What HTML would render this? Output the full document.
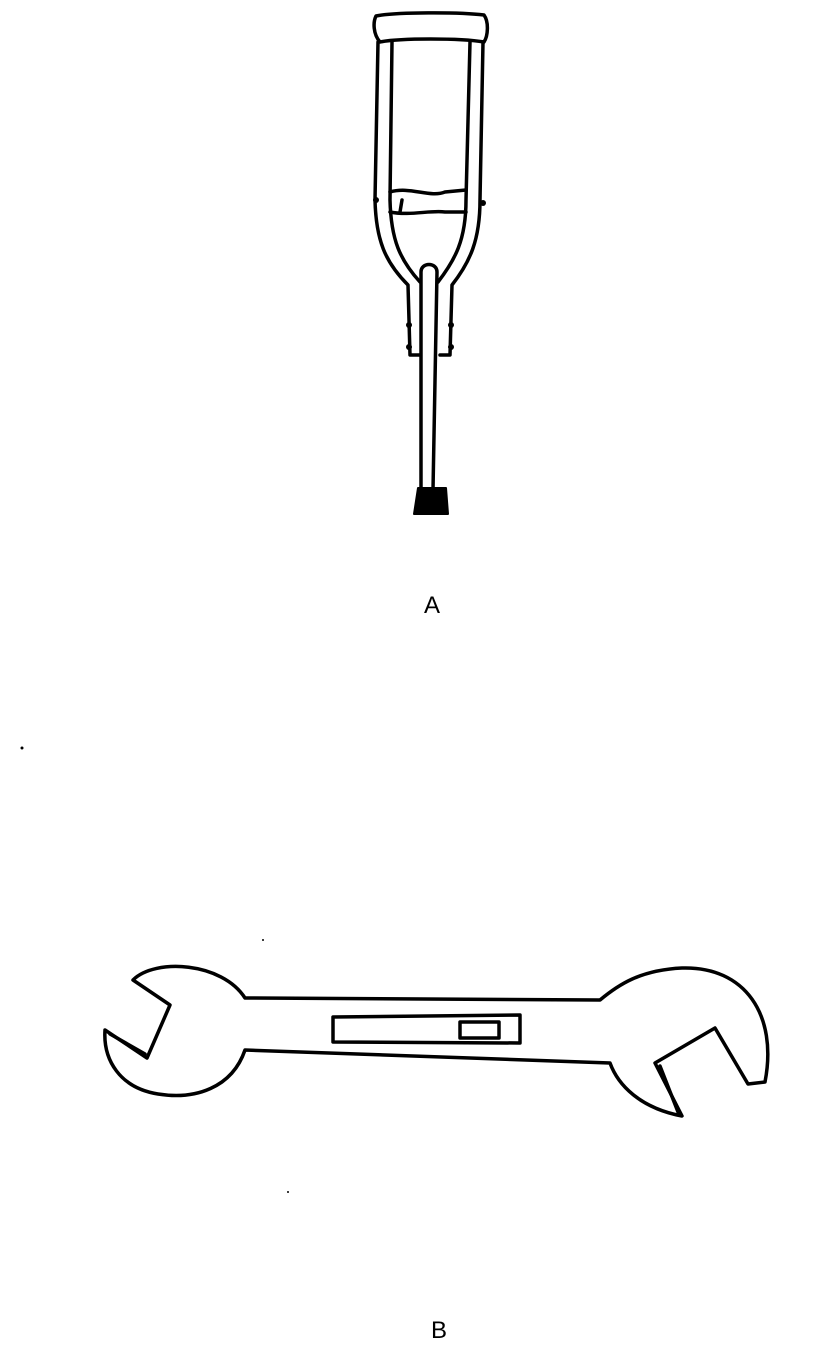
<!DOCTYPE html>
<html><head><meta charset="utf-8"><style>
html,body{margin:0;padding:0;background:#fff;width:840px;height:1365px;overflow:hidden}
svg{display:block}
text{font-family:"Liberation Sans",sans-serif;font-size:24px;fill:#000}
</style></head><body>
<svg width="840" height="1365" viewBox="0 0 840 1365">
<g fill="none" stroke="#000" stroke-width="3.5" stroke-linejoin="round" stroke-linecap="round">
  <path d="M376,16 C395,12 460,12 484,15 C489,22 488,36 484,42 C460,38 400,38 380,42 C373,34 373,22 376,16 Z"/>
  <path d="M378,42 L375,200 C376,240 385,262 408,285 L410,355 L420,355 M392,42 L390,200 C391,240 400,260 420,282"/>
  <path d="M483,42 L480,200 C480,240 470,262 452,285 L450,355 L440,355 M470,42 L466,200 C466,240 455,260 438,282"/>
  <path d="M390,192 C410,186 430,198 445,192 L466,190 M390,212 C410,216 430,210 445,212 L466,212 M402,200 L400,212"/>
  <path d="M421,490 L421,272 C421,262 437,262 437,272 L433,490"/>
  <path fill="#000" stroke-width="2" d="M418,488 L446,488 L448,514 L414,514 Z"/>
  <circle cx="376" cy="200" r="3" fill="#000" stroke="none"/>
  <circle cx="483" cy="203" r="3" fill="#000" stroke="none"/>
  <circle cx="409" cy="325" r="3" fill="#000" stroke="none"/>
  <circle cx="451" cy="325" r="3" fill="#000" stroke="none"/>
  <circle cx="409" cy="347" r="3" fill="#000" stroke="none"/>
  <circle cx="451" cy="347" r="3" fill="#000" stroke="none"/>
</g>
<text x="424" y="613">A</text>
<circle cx="22" cy="748" r="1.5" fill="#000"/>
<g fill="none" stroke="#000" stroke-width="3.5" stroke-linejoin="round" stroke-linecap="round">
  <path d="M133,980 C155,958 222,962 245,998 L600,1000 C618,985 640,970 682,968 C745,966 778,1015 765,1082 L748,1084 L715,1028 L655,1063 L682,1116 C640,1108 618,1085 610,1063 L245,1050 C232,1088 195,1100 158,1094 C120,1088 103,1060 105,1030 L147,1058 L170,1005 Z"/>
  <path d="M333,1017 L520,1015 L520,1043 L333,1042 Z"/>
  <path d="M460,1022 L499,1022 L499,1038 L460,1038 Z"/>
  <path d="M110,1034 L145,1054"/>
  <path d="M660,1066 L678,1112"/>
</g>
<circle cx="263" cy="940" r="1" fill="#000"/>
<circle cx="288" cy="1192" r="1" fill="#000"/>
<text x="431" y="1338">B</text>
</svg>
</body></html>
